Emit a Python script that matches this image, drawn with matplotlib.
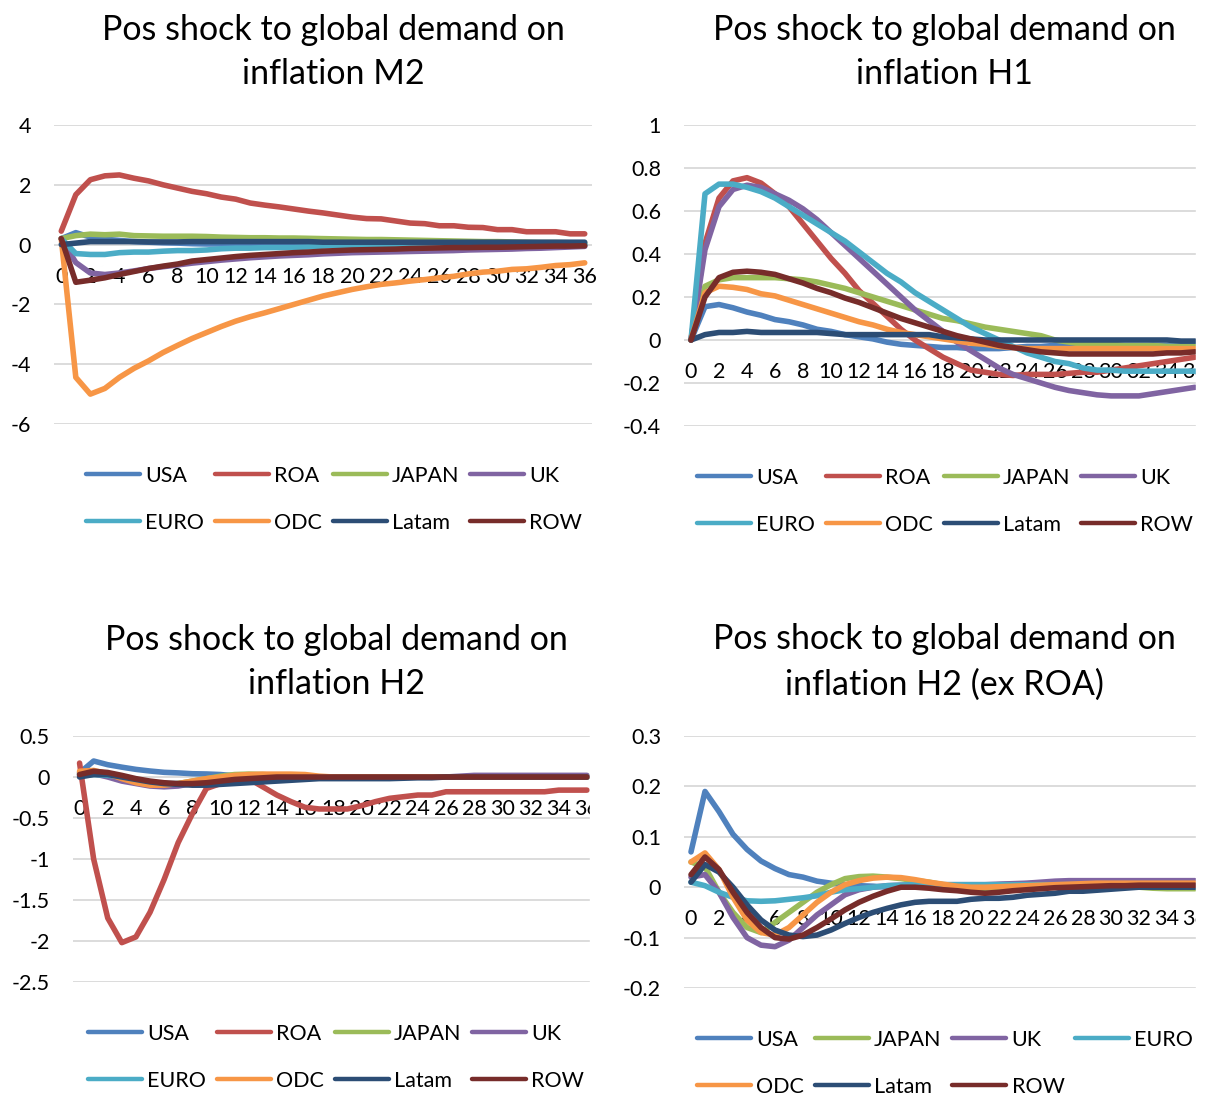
import matplotlib
matplotlib.use("Agg")
import matplotlib.pyplot as plt
from matplotlib.patches import Rectangle

plt.rcParams['font.family'] = ['Lato', 'DejaVu Sans']

# horizon in months
months = list(range(37))
month_ticks = list(range(0, 37, 2))

regions = ["USA", "ROA", "JAPAN", "UK", "EURO", "ODC", "Latam", "ROW"]
colours = {
    "USA": "#4F81BD", "ROA": "#C0504D", "JAPAN": "#9BBB59", "UK": "#8064A2",
    "EURO": "#4BACC6", "ODC": "#F79646", "Latam": "#2C4D75", "ROW": "#772C2A",
}

# --- inflation M2 ---
m2_usa = [0.2, 0.4, 0.25, 0.18, 0.14, 0.1, 0.08, 0.06, 0.05, 0.03,
          0.02, 0.02, 0.02, 0.02, 0.02, 0.02, 0.01, 0.01, 0.01, 0.01,
          0.01, 0.01, 0.01, 0.01, 0.01, 0.01, 0.01, 0.01, 0.01, 0.01,
          0.0, 0.0, 0.0, 0.0, 0.0, 0.0, 0.0]
m2_roa = [0.45, 1.67, 2.17, 2.3, 2.33, 2.22, 2.13, 2.0, 1.89, 1.78,
          1.7, 1.59, 1.52, 1.39, 1.32, 1.26, 1.19, 1.12, 1.06, 0.99,
          0.92, 0.87, 0.86, 0.79, 0.72, 0.7, 0.63, 0.63, 0.58, 0.57,
          0.5, 0.5, 0.43, 0.43, 0.43, 0.36, 0.36]
m2_japan = [0.2, 0.3, 0.35, 0.33, 0.35, 0.3, 0.29, 0.28, 0.28, 0.28,
            0.27, 0.25, 0.24, 0.23, 0.23, 0.22, 0.22, 0.21, 0.2, 0.19,
            0.18, 0.17, 0.17, 0.16, 0.15, 0.14, 0.13, 0.12, 0.11, 0.1,
            0.1, 0.09, 0.08, 0.07, 0.07, 0.06, 0.05]
m2_uk = [0.2, -0.6, -0.95, -1.0, -0.95, -0.88, -0.8, -0.74, -0.68, -0.62,
         -0.57, -0.52, -0.48, -0.44, -0.41, -0.38, -0.36, -0.34, -0.31, -0.29,
         -0.27, -0.26, -0.25, -0.24, -0.23, -0.22, -0.21, -0.2, -0.18, -0.17,
         -0.16, -0.15, -0.13, -0.12, -0.1, -0.08, -0.06]
m2_euro = [0.2, -0.3, -0.33, -0.33, -0.27, -0.25, -0.25, -0.22, -0.2, -0.2,
           -0.18, -0.14, -0.12, -0.12, -0.1, -0.1, -0.1, -0.08, -0.05, -0.03,
           -0.02, -0.02, -0.01, -0.01, -0.01, 0.0, 0.0, 0.0, 0.0, 0.0,
           0.0, 0.0, 0.0, 0.0, 0.0, 0.0, 0.0]
m2_odc = [0.2, -4.44, -5.0, -4.81, -4.44, -4.14, -3.89, -3.61, -3.37, -3.14,
          -2.94, -2.74, -2.56, -2.41, -2.28, -2.14, -2.0, -1.86, -1.72, -1.61,
          -1.5, -1.41, -1.33, -1.28, -1.22, -1.17, -1.11, -1.06, -0.98, -0.92,
          -0.89, -0.83, -0.81, -0.76, -0.7, -0.67, -0.61]
m2_latam = [0.0, 0.05, 0.1, 0.1, 0.1, 0.1, 0.09, 0.09, 0.09, 0.1,
            0.1, 0.1, 0.1, 0.1, 0.1, 0.1, 0.1, 0.1, 0.08, 0.08,
            0.08, 0.08, 0.08, 0.08, 0.08, 0.08, 0.08, 0.08, 0.08, 0.08,
            0.08, 0.08, 0.08, 0.08, 0.08, 0.08, 0.08]
m2_row = [0.2, -1.26, -1.19, -1.11, -1.0, -0.9, -0.8, -0.72, -0.65, -0.55,
          -0.5, -0.45, -0.4, -0.36, -0.33, -0.3, -0.27, -0.25, -0.22, -0.2,
          -0.18, -0.17, -0.16, -0.15, -0.13, -0.12, -0.11, -0.1, -0.1, -0.09,
          -0.09, -0.08, -0.07, -0.06, -0.05, -0.05, -0.04]

# --- inflation H1 ---
h1_usa = [0.0, 0.155, 0.165, 0.15, 0.13, 0.115, 0.095, 0.085, 0.07, 0.05,
          0.04, 0.025, 0.015, 0.005, -0.01, -0.02, -0.025, -0.03, -0.035, -0.035,
          -0.04, -0.04, -0.04, -0.035, -0.03, -0.03, -0.025, -0.025, -0.03, -0.03,
          -0.03, -0.03, -0.03, -0.025, -0.025, -0.02, -0.02]
h1_roa = [0.0, 0.45, 0.66, 0.74, 0.755, 0.73, 0.68, 0.62, 0.54, 0.46,
          0.38, 0.31, 0.23, 0.17, 0.11, 0.05, 0.0, -0.04, -0.08, -0.11,
          -0.14, -0.15, -0.16, -0.165, -0.16, -0.16, -0.16, -0.155, -0.15, -0.15,
          -0.14, -0.13, -0.12, -0.11, -0.1, -0.09, -0.08]
h1_japan = [0.0, 0.25, 0.28, 0.29, 0.29, 0.29, 0.29, 0.285, 0.28, 0.27,
            0.255, 0.24, 0.22, 0.2, 0.18, 0.16, 0.14, 0.12, 0.1, 0.09,
            0.075, 0.06, 0.05, 0.04, 0.03, 0.02, 0.0, -0.01, -0.02, -0.02,
            -0.02, -0.025, -0.025, -0.025, -0.03, -0.03, -0.03]
h1_uk = [0.0, 0.42, 0.62, 0.7, 0.72, 0.71, 0.68, 0.65, 0.61, 0.56,
         0.5, 0.44, 0.38, 0.32, 0.26, 0.2, 0.14, 0.09, 0.04, -0.01,
         -0.05, -0.09, -0.13, -0.16, -0.18, -0.2, -0.22, -0.235, -0.245, -0.255,
         -0.26, -0.26, -0.26, -0.25, -0.24, -0.23, -0.22]
h1_euro = [0.0, 0.68, 0.725, 0.725, 0.71, 0.69, 0.66, 0.62, 0.58, 0.54,
           0.5, 0.46, 0.41, 0.36, 0.31, 0.27, 0.22, 0.18, 0.14, 0.1,
           0.06, 0.03, 0.0, -0.03, -0.06, -0.08, -0.1, -0.11, -0.13, -0.14,
           -0.14, -0.145, -0.145, -0.145, -0.145, -0.145, -0.145]
h1_odc = [0.0, 0.22, 0.25, 0.245, 0.235, 0.215, 0.205, 0.185, 0.165, 0.145,
          0.125, 0.105, 0.085, 0.07, 0.05, 0.035, 0.025, 0.015, 0.005, -0.005,
          -0.015, -0.02, -0.03, -0.035, -0.04, -0.04, -0.04, -0.04, -0.04, -0.04,
          -0.04, -0.04, -0.04, -0.04, -0.04, -0.04, -0.04]
h1_latam = [0.0, 0.025, 0.035, 0.035, 0.04, 0.035, 0.035, 0.035, 0.035, 0.035,
            0.03, 0.025, 0.025, 0.025, 0.025, 0.025, 0.025, 0.025, 0.015, 0.01,
            0.005, 0.0, 0.0, 0.0, 0.0, 0.0, 0.0, 0.0, 0.0, 0.0,
            0.0, 0.0, 0.0, 0.0, 0.0, -0.005, -0.005]
h1_row = [0.0, 0.2, 0.29, 0.315, 0.32, 0.315, 0.305, 0.285, 0.265, 0.24,
          0.22, 0.195, 0.175, 0.15, 0.125, 0.1, 0.08, 0.06, 0.04, 0.02,
          0.005, -0.01, -0.025, -0.035, -0.045, -0.055, -0.06, -0.065, -0.065, -0.065,
          -0.065, -0.065, -0.065, -0.065, -0.06, -0.06, -0.055]

# --- inflation H2 ---
h2_usa = [0.05, 0.195, 0.15, 0.12, 0.093, 0.073, 0.057, 0.05, 0.04, 0.037,
          0.03, 0.015, 0.01, 0.005, 0.0, 0.0, 0.0, 0.0, 0.0, 0.0,
          0.0, 0.0, 0.0, 0.0, 0.0, 0.0, 0.0, 0.0, 0.0, 0.0,
          0.0, 0.0, 0.0, 0.0, 0.0, 0.0, 0.0]
h2_roa = [0.17, -1.0, -1.72, -2.02, -1.95, -1.65, -1.25, -0.8, -0.45, -0.14,
          -0.08, -0.05, -0.02, -0.12, -0.22, -0.3, -0.37, -0.39, -0.39, -0.39,
          -0.35, -0.3, -0.26, -0.24, -0.22, -0.22, -0.18, -0.18, -0.18, -0.18,
          -0.18, -0.18, -0.18, -0.18, -0.16, -0.16, -0.16]
h2_japan = [0.05, 0.06, 0.03, -0.02, -0.06, -0.09, -0.1, -0.08, -0.05, -0.02,
            0.01, 0.03, 0.035, 0.03, 0.02, 0.01, 0.0, 0.0, 0.0, 0.0,
            0.0, 0.0, 0.0, 0.0, 0.0, 0.0, 0.0, 0.0, 0.0, 0.0,
            0.0, 0.0, 0.0, 0.0, 0.0, 0.0, 0.0]
h2_uk = [0.03, 0.04, 0.0, -0.05, -0.08, -0.11, -0.12, -0.11, -0.08, -0.05,
         -0.03, -0.01, 0.0, 0.0, 0.0, 0.0, 0.0, 0.0, 0.0, 0.0,
         0.0, 0.0, 0.0, 0.0, 0.0, 0.0, 0.0, 0.01, 0.02, 0.02,
         0.02, 0.02, 0.02, 0.02, 0.02, 0.02, 0.02]
h2_euro = [0.02, 0.03, 0.02, 0.0, -0.03, -0.06, -0.08, -0.08, -0.07, -0.05,
           -0.03, -0.015, 0.0, 0.0, 0.0, 0.0, 0.0, 0.0, 0.0, 0.0,
           0.0, 0.0, 0.0, 0.0, 0.0, 0.0, 0.0, 0.0, 0.0, 0.0,
           0.0, 0.0, 0.0, 0.0, 0.0, 0.0, 0.0]
h2_odc = [0.07, 0.08, 0.04, -0.02, -0.07, -0.1, -0.1, -0.08, -0.05, -0.02,
          0.0, 0.02, 0.03, 0.035, 0.035, 0.035, 0.03, 0.01, 0.0, 0.0,
          0.0, 0.0, 0.0, 0.0, 0.0, 0.0, 0.0, 0.0, 0.0, 0.0,
          0.0, 0.0, 0.0, 0.0, 0.0, 0.0, 0.0]
h2_latam = [0.0, 0.03, 0.03, 0.0, -0.03, -0.06, -0.08, -0.09, -0.1, -0.1,
            -0.09, -0.08, -0.07, -0.06, -0.05, -0.04, -0.03, -0.02, -0.02, -0.02,
            -0.02, -0.02, -0.02, -0.015, -0.01, -0.01, 0.0, 0.0, 0.0, 0.0,
            0.0, 0.0, 0.0, 0.0, 0.0, 0.0, 0.0]
h2_row = [0.03, 0.07, 0.055, 0.02, -0.02, -0.05, -0.07, -0.08, -0.08, -0.07,
          -0.05, -0.03, -0.02, -0.01, 0.0, 0.0, 0.0, 0.0, 0.0, 0.0,
          0.0, 0.0, 0.0, 0.0, 0.0, 0.0, 0.0, 0.0, 0.0, 0.0,
          0.0, 0.0, 0.0, 0.0, 0.0, 0.0, 0.0]

# --- inflation H2 excluding ROA ---
h2x_usa = [0.07, 0.19, 0.15, 0.105, 0.075, 0.052, 0.037, 0.025, 0.02, 0.012,
           0.008, 0.005, 0.003, 0.002, 0.0, 0.0, 0.0, 0.0, 0.0, 0.002,
           0.003, 0.004, 0.005, 0.006, 0.007, 0.008, 0.009, 0.01, 0.01, 0.01,
           0.01, 0.01, 0.01, 0.01, 0.01, 0.01, 0.01]
h2x_japan = [0.05, 0.04, -0.01, -0.05, -0.08, -0.09, -0.07, -0.05, -0.03, -0.01,
             0.005, 0.017, 0.021, 0.022, 0.02, 0.017, 0.013, 0.01, 0.005, 0.0,
             -0.002, -0.002, -0.001, 0.0, 0.0, 0.0, 0.0, 0.0, 0.0, 0.0,
             0.0, 0.0, 0.0, -0.002, -0.003, -0.003, -0.003]
h2x_uk = [0.02, 0.025, -0.01, -0.06, -0.1, -0.115, -0.118, -0.105, -0.08, -0.055,
          -0.035, -0.015, -0.005, 0.0, 0.003, 0.004, 0.005, 0.005, 0.005, 0.005,
          0.005, 0.005, 0.006, 0.007, 0.008, 0.01, 0.012, 0.013, 0.013, 0.013,
          0.013, 0.013, 0.013, 0.013, 0.013, 0.013, 0.013]
h2x_euro = [0.01, 0.003, -0.01, -0.02, -0.027, -0.028, -0.027, -0.024, -0.021, -0.017,
            -0.01, -0.005, -0.003, 0.0, 0.003, 0.004, 0.005, 0.005, 0.005, 0.005,
            0.005, 0.005, 0.005, 0.005, 0.005, 0.005, 0.005, 0.005, 0.005, 0.005,
            0.005, 0.005, 0.005, 0.005, 0.005, 0.005, 0.005]
h2x_odc = [0.05, 0.068, 0.035, -0.02, -0.065, -0.09, -0.095, -0.08, -0.055, -0.03,
           -0.01, 0.005, 0.013, 0.018, 0.02, 0.019, 0.015, 0.01, 0.006, 0.002,
           0.0, 0.0, 0.001, 0.002, 0.003, 0.004, 0.005, 0.006, 0.007, 0.008,
           0.008, 0.008, 0.008, 0.008, 0.008, 0.008, 0.008]
h2x_latam = [0.01, 0.045, 0.03, 0.0, -0.035, -0.065, -0.085, -0.095, -0.098, -0.095,
             -0.085, -0.072, -0.06, -0.05, -0.042, -0.035, -0.03, -0.028, -0.028, -0.028,
             -0.024, -0.022, -0.022, -0.02, -0.016, -0.014, -0.012, -0.008, -0.008, -0.006,
             -0.004, -0.002, 0.0, 0.0, 0.0, 0.0, 0.0]
h2x_row = [0.025, 0.06, 0.035, -0.01, -0.05, -0.08, -0.1, -0.103, -0.095, -0.08,
           -0.063, -0.045, -0.03, -0.018, -0.008, 0.0, 0.0, -0.002, -0.005, -0.007,
           -0.01, -0.012, -0.01, -0.007, -0.005, -0.003, -0.001, 0.0, 0.001, 0.002,
           0.003, 0.003, 0.004, 0.004, 0.004, 0.004, 0.004]

W, H = 1212, 1095
fig = plt.figure(figsize=(W / 100, H / 100), dpi=100)


def px_axes(left, top, right, bottom):
    # axes placed from pixel edges
    return fig.add_axes([left / W, 1 - bottom / H, (right - left) / W, (bottom - top) / H])


def draw_panel(ax, series, yticks):
    for name, values in series:
        ax.plot(months, values, color=colours[name], lw=4.0, label=name,
                solid_joinstyle='round', solid_capstyle='round')
    ax.set_xlim(-0.5, 36.5)
    ax.set_ylim(yticks[0], yticks[-1])
    ax.set_yticks(yticks)
    ax.set_yticklabels([f"{v:g}" for v in yticks])
    ax.set_xticks(month_ticks)
    ax.set_xticklabels([str(m) for m in month_ticks])
    ax.grid(axis='y', color='#D9D9D9', lw=1.3)
    ax.set_axisbelow(True)
    for side in ['top', 'right', 'left']:
        ax.spines[side].set_visible(False)
    ax.spines['bottom'].set_position(('data', 0))
    ax.spines['bottom'].set_color('none')
    ax.tick_params(axis='x', length=0, pad=16, labelsize=15.5)
    ax.tick_params(axis='y', length=0, pad=16.5, labelsize=15.5)


def draw_legend(ax, handles_order, x, y):
    handles, labels = ax.get_legend_handles_labels()
    lookup = dict(zip(labels, handles))
    leg = ax.legend([lookup[n] for n in handles_order], handles_order,
                    loc='upper left', bbox_to_anchor=(x / W, 1 - y / H),
                    bbox_transform=fig.transFigure, ncol=4, frameon=False,
                    fontsize=15.5, handlelength=2.5, handletextpad=0.25,
                    columnspacing=0.5, labelspacing=1.25, borderpad=0,
                    borderaxespad=0)
    for line in leg.get_lines():
        line.set_linewidth(3.2)


def title(x, text):
    fig.text(x / W, 1 - text[1] / H, text[0], ha='center', va='center',
             fontsize=24.5, linespacing=1.5)


# top left: M2
ax1 = px_axes(54, 125, 592, 424)
draw_panel(ax1, [("USA", m2_usa), ("ROA", m2_roa), ("JAPAN", m2_japan), ("UK", m2_uk),
                 ("EURO", m2_euro), ("ODC", m2_odc), ("Latam", m2_latam), ("ROW", m2_row)],
           [-6, -4, -2, 0, 2, 4])
draw_legend(ax1, ["USA", "EURO", "ROA", "ODC", "JAPAN", "Latam", "UK", "ROW"], 86, 466)
title(333, ("Pos shock to global demand on\ninflation M2", 52))

# top right: H1
ax2 = px_axes(684, 125, 1202, 426)
draw_panel(ax2, [("USA", h1_usa), ("ROA", h1_roa), ("JAPAN", h1_japan), ("UK", h1_uk),
                 ("EURO", h1_euro), ("ODC", h1_odc), ("Latam", h1_latam), ("ROW", h1_row)],
           [-0.4, -0.2, 0, 0.2, 0.4, 0.6, 0.8, 1])
draw_legend(ax2, ["USA", "EURO", "ROA", "ODC", "JAPAN", "Latam", "UK", "ROW"], 697, 468)
title(944, ("Pos shock to global demand on\ninflation H1", 52))

# bottom left: H2
ax3 = px_axes(72.5, 736, 594, 982)
draw_panel(ax3, [("USA", h2_usa), ("ROA", h2_roa), ("JAPAN", h2_japan), ("UK", h2_uk),
                 ("EURO", h2_euro), ("ODC", h2_odc), ("Latam", h2_latam), ("ROW", h2_row)],
           [-2.5, -2, -1.5, -1, -0.5, 0, 0.5])
draw_legend(ax3, ["USA", "EURO", "ROA", "ODC", "JAPAN", "Latam", "UK", "ROW"], 88, 1024)
title(336, ("Pos shock to global demand on\ninflation H2", 662))

# bottom right: H2 ex ROA
ax4 = px_axes(684, 736, 1202, 988)
draw_panel(ax4, [("USA", h2x_usa), ("JAPAN", h2x_japan), ("UK", h2x_uk), ("EURO", h2x_euro),
                 ("ODC", h2x_odc), ("Latam", h2x_latam), ("ROW", h2x_row)],
           [-0.2, -0.1, 0, 0.1, 0.2, 0.3])
draw_legend(ax4, ["USA", "ODC", "JAPAN", "Latam", "UK", "ROW", "EURO"], 697, 1030)
title(944, ("Pos shock to global demand on\ninflation H2 (ex ROA)", 662))

# charts were cut at their right edge
fig.add_artist(Rectangle((590 / W, 1 - 1000 / H), 25 / W, 300 / H,
                         transform=fig.transFigure, color='white', zorder=10))
fig.add_artist(Rectangle((1196 / W, 1 - 440 / H), 16 / W, 340 / H,
                         transform=fig.transFigure, color='white', zorder=10))
fig.add_artist(Rectangle((1196 / W, 1 - 1000 / H), 16 / W, 300 / H,
                         transform=fig.transFigure, color='white', zorder=10))

fig.savefig("out.png", dpi=100)
